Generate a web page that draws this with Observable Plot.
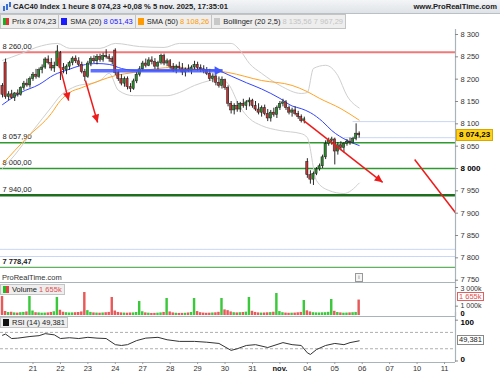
<!DOCTYPE html>
<html><head><meta charset="utf-8">
<script src="https://cdn.jsdelivr.net/npm/d3@7"></script>
<script src="https://cdn.jsdelivr.net/npm/@observablehq/plot@0.6"></script>
<style>
body{margin:0;background:#fff;}
#wrap{position:relative;width:500px;height:375px;overflow:hidden;font-family:"Liberation Sans",Arial,sans-serif;color:#222;}
.abs{position:absolute;}
#titlebar{left:0;top:0;width:500px;height:13px;background:linear-gradient(#f3f5f7,#dfe3e7);border-bottom:1px solid #b9c0c6;}
#titlebar .t{position:absolute;left:13px;top:2px;font-size:7.6px;font-weight:bold;white-space:nowrap;}
#titlebar .r{position:absolute;right:3px;top:2px;font-size:7.6px;font-weight:bold;white-space:nowrap;}
#legend{left:0;top:14px;height:13px;display:flex;border:1px solid #c4c4c4;background:#eeeeee;font-size:7.5px;}
#legend .it{display:flex;align-items:center;padding:0 2px 0 2px;border-right:1px solid #c4c4c4;white-space:nowrap;}
#legend .it:last-child{border-right:none;}
.sq{display:inline-block;width:6px;height:7px;margin-right:3px;}
.box{position:absolute;font-size:7.5px;white-space:nowrap;line-height:8px;}
.plabel{background:#ffd21a;font-weight:bold;font-size:8px;line-height:10px;color:#000;padding:0 2px;border:1px solid #d9a800;}
.vlabel{background:#fff;border:1px solid #e06060;color:#e05050;padding:0 1px;line-height:7px;}
.rlabel{background:#fff;border:1px solid #888;color:#222;padding:0 1px;}
.lgd{background:#eeeeee;border:1px solid #c4c4c4;padding:0 2px;height:9px;line-height:9px;font-size:7.5px;display:flex;align-items:center;}
.sep{position:absolute;left:0;width:455px;height:1px;background:#a9b3ba;}
</style></head>
<body>
<div id="wrap">
  <div id="titlebar" class="abs">
    <svg class="abs" style="left:2px;top:2px" width="10" height="10"><rect x="1" y="4" width="2" height="5" fill="#3a6fd8"/><rect x="4" y="2" width="2" height="6" fill="#3a6fd8"/><rect x="7" y="0" width="2" height="5" fill="#3a6fd8"/></svg>
    <span class="t">CAC40 Index 1 heure 8 074,23 +0,08 % 5 nov. 2025, 17:35:01</span>
    <span class="r">www.ProRealTime.com</span>
  </div>
  <div id="legend" class="abs">
    <div class="it"><span class="sq" style="background:linear-gradient(90deg,#22aa22 50%,#dd3333 50%)"></span>Prix 8 074,23</div>
    <div class="it"><span class="sq" style="background:#1a1aff"></span>SMA (20)&nbsp;<span style="color:#2020ff">8 051,43</span></div>
    <div class="it"><span class="sq" style="background:#ff9a00"></span>SMA (50)&nbsp;<span style="color:#ff9a00">8 108,26</span></div>
    <div class="it"><span class="sq" style="background:#c8c8c8"></span>Bollinger (20 2,5)&nbsp;<span style="color:#c4c4c4">8 135,56 7 967,29</span></div>
  </div>
  <div id="price" class="abs" style="left:0;top:29px"></div>
  <div class="sep" style="top:282px"></div>
  <div id="vol" class="abs" style="left:0;top:282px"></div>
  <div class="sep" style="top:316px"></div>
  <div id="rsi" class="abs" style="left:0;top:316px"></div>
  <div class="abs" style="left:2px;top:273px;font-size:7.5px;color:#333">ProRealTime.com</div>
  <div class="abs" style="left:355px;top:273px;width:6px;height:7px;border:1px solid #999;font-size:6px;line-height:7px;text-align:center;color:#666;background:#f4f4f4">i</div>
  <div class="abs lgd" style="left:0;top:284px"><span class="sq" style="background:linear-gradient(90deg,#22bb22 50%,#dd4444 50%)"></span>Volume&nbsp;<span style="color:#e05050">1 655k</span></div>
  <div class="abs lgd" style="left:0;top:317px"><span class="sq" style="background:#111"></span>RSI (14) 49,381</div>
</div>
<script>
// ---------- DATA ----------
const firstBar = -1; // bar index of first candle (last hour of 17 oct.)
const opens  = [8185,8237,8160,8166,8158,8168,8165,8180,8190,8186,8200,8210,8205,8220,8226,8244,8236,8224,8230,8258,8225,8220,8228,8236,8246,8240,8232,8216,8205,8235,8245,8240,8250,8243,8252,8249,8245,8264,8214,8200,8190,8200,8182,8178,8195,8210,8222,8235,8230,8242,8238,8228,8236,8252,8235,8240,8228,8220,8228,8224,8215,8222,8218,8226,8232,8225,8222,8218,8212,8200,8206,8192,8185,8198,8180,8145,8130,8140,8132,8145,8140,8148,8152,8140,8132,8125,8135,8122,8112,8125,8120,8135,8145,8148,8135,8125,8130,8122,8115,8106,8015,7985,7975,7988,7998,8005,8025,8055,8062,8065,8038,8052,8046,8055,8060,8057,8066,8078];
const highs  = [8190,8245,8172,8175,8170,8176,8183,8195,8200,8205,8215,8222,8225,8232,8248,8252,8246,8238,8275,8262,8235,8232,8240,8250,8252,8248,8238,8222,8240,8250,8252,8255,8256,8258,8266,8255,8250,8268,8218,8210,8205,8205,8190,8200,8215,8228,8240,8245,8248,8250,8246,8240,8256,8256,8245,8244,8235,8232,8238,8235,8225,8232,8230,8240,8238,8232,8230,8226,8222,8212,8210,8205,8205,8200,8185,8150,8145,8150,8148,8155,8152,8158,8155,8150,8145,8140,8142,8132,8130,8135,8140,8150,8155,8152,8140,8135,8138,8128,8120,8115,8022,7995,7992,8002,8010,8030,8062,8068,8070,8068,8058,8060,8058,8065,8068,8070,8100,8082];
const lows   = [8158,8155,8152,8155,8150,8160,8162,8175,8182,8180,8195,8200,8202,8212,8222,8232,8218,8215,8228,8197,8212,8210,8220,8230,8235,8228,8212,8195,8202,8228,8235,8232,8238,8238,8245,8238,8232,8208,8195,8185,8182,8176,8170,8175,8190,8205,8218,8225,8228,8232,8222,8220,8232,8230,8228,8222,8215,8212,8220,8208,8205,8215,8210,8220,8218,8215,8212,8208,8195,8192,8185,8180,8178,8175,8138,8122,8120,8126,8125,8135,8130,8138,8135,8128,8120,8115,8118,8105,8104,8115,8112,8130,8138,8130,8120,8115,8118,8110,8102,8100,7978,7965,7962,7984,7994,8000,8020,8050,8052,8008,8030,8040,8035,8050,8052,8055,8062,8068];
const closes = [8165,8160,8166,8158,8168,8165,8180,8190,8186,8200,8210,8205,8220,8226,8244,8236,8224,8230,8262,8225,8220,8228,8236,8246,8240,8232,8216,8205,8235,8245,8240,8250,8243,8252,8249,8245,8238,8214,8200,8190,8200,8182,8178,8195,8210,8222,8235,8230,8242,8238,8228,8236,8252,8235,8240,8228,8220,8228,8224,8215,8222,8218,8226,8232,8225,8222,8218,8212,8200,8206,8192,8185,8198,8180,8145,8130,8140,8132,8145,8140,8148,8152,8140,8132,8125,8135,8122,8112,8125,8120,8135,8145,8148,8135,8125,8130,8122,8115,8106,8110,7985,7975,7988,7998,8005,8025,8055,8062,8065,8038,8052,8046,8055,8060,8057,8066,8078,8074.23];
const volumes = [2036,430,320,350,280,260,300,330,380,2036,480,300,280,250,260,280,330,400,1930,560,350,300,270,280,300,320,380,2464,520,330,280,260,250,270,300,330,1930,480,330,280,260,250,270,280,320,1500,400,280,250,220,230,250,280,330,1820,380,280,240,220,230,240,270,320,1820,420,300,260,240,250,270,290,340,1820,600,520,380,300,280,300,320,360,1930,450,330,280,260,270,290,310,350,2357,420,300,260,240,250,260,290,330,1607,500,380,300,280,270,290,300,340,1714,450,320,280,250,260,280,300,330,1655];

const sma20Bars = [-1,5,11,16,20,25,30,34,38,44,52,64,70,74,79,84,90,94,97,100,104,107,112,116];
const sma20     = [8143,8170,8188,8210,8220,8231,8235,8233,8224,8219,8219,8222,8218,8207,8192,8178,8157,8140,8134,8125,8105,8085,8063,8051.43];
const sma50Bars = [-1,3,7,15,18,21,25,31,36,42,48,54,64,73,84,94,99,103,110,116];
const sma50     = [8010,8040,8069,8123,8152,8170,8181,8197,8208,8215,8222,8226,8222,8215,8197,8186,8172,8157,8134,8108.26];
const bbUpBars  = [-1,5,10,17,21,31,36,44,52,57,74,77,80,84,90,97,99,101,105,109,112,116];
const bbUp      = [8242,8257,8271,8280,8269,8269,8280,8273,8271,8280,8280,8264,8235,8213,8186,8168,8170,8224,8231,8208,8163,8135.56];
const bbLoBars  = [-1,3,9,15,18,22,31,34,37,42,53,57,62,67,70,73,77,80,84,90,97,99,102,106,111,116];
const bbLo      = [8000,8030,8085,8137,8163,8181,8197,8213,8175,8163,8163,8170,8186,8197,8201,8190,8137,8112,8096,8085,8078,8069,7973,7951,7944,7967.29];
const rsiBars = [-1,0,2,4,8,11,13,16,18,21,24,27,30,33,36,38,40,43,46,50,53,57,62,66,70,74,76,79,82,86,91,94,97,99,100,102,105,108,111,113,116];
const rsi     = [63,66,55,56,60,62,67,64,55,57,55,58,56,55,40,38,40,50,56,58,52,48,48,46,43,26,30,38,40,33,45,40,38,20,16,28,38,43,40,45,49.381];

const levelValues = [8260, 8057.90, 8000, 7940, 7778.47];
const hiLines = [{v:8105, from:114}, {v:8069, from:111}, {v:7819, from:-2}, {v:7803, from:-2}];
const redArrows = [{x1:17.1,y1:8248,x2:20.7,y2:8152},{x1:26.2,y1:8197,x2:30.2,y2:8103},{x1:97.8,y1:8107,x2:123.7,y2:7969}];
const redLine   = [{x1:134.2,y1:8020,x2:147.6,y2:7901}];
const blueArrow = [{x1:27.9,y1:8219,x2:71.2,y2:8219}];
const dayTickBars = [9,18,27,36,45,54,63,72,81,90,99,108,117,126,135,144];
const dayLabels = ["21","22","23","24","27","28","29","30","31","nov.","04","05","06","07","10","11"];
const priceTicks = [7750,7800,7850,7900,7950,8000,8050,8100,8150,8200,8250,8300];
const volTicks = [1000, 3000];
const rsiTicks = [0, 100];
const lastPrice = 8074.23, lastVol = 1655, lastRsi = 49.381;

// ---------- helpers ----------
const loc = d3.formatLocale({decimal:",", thousands:" ", grouping:[3], currency:["",""]});
const f0 = loc.format(",.0f"), f2 = loc.format(",.2f"), f3 = loc.format(",.3f");
const bars = opens.map((o,k)=>({i:firstBar+k,o,h:highs[k],l:lows[k],c:closes[k],v:volumes[k]}));
const series = (idx, vals) => idx.map((i,k)=>({i, v:vals[k]}));
const X_DOMAIN = [-1.66, 147.6];
const XR = X_DOMAIN[1], TICK = 1.0; // tick length in bar units (~3px)
const FONT = "Liberation Sans, Arial, sans-serif";
const W = 500, MR = 45;
const P_H = 253, P_DOM = [7744.8, 8311.2];
const up = "#2b8a2b", dn = "#c23434";

const sx = Plot.scale({x:{domain:X_DOMAIN, range:[0, W-MR]}});
const sy = Plot.scale({y:{domain:P_DOM, range:[P_H, 0]}});
const ang = d => Math.atan2(sx.apply(d.x2)-sx.apply(d.x1), -(sy.apply(d.y2)-sy.apply(d.y1)))*180/Math.PI;
const headShape = (len, half) => ({draw(ctx){ ctx.moveTo(0,0); ctx.lineTo(-half,len); ctx.lineTo(half,len); ctx.closePath(); }});
const baseStyle = {fontFamily: FONT, fontSize: "7.5px", color: "#222", overflow: "visible", background: "transparent"};

// ---------- PRICE PANEL ----------
const price = Plot.plot({
  width: W, height: P_H, marginLeft: 0, marginRight: MR, marginTop: 0, marginBottom: 0,
  x: {type:"linear", domain: X_DOMAIN, axis: null, label: null},
  y: {type:"linear", domain: P_DOM, axis: null, label: null},
  style: baseStyle,
  marks: [
    Plot.ruleY(hiLines, {y:"v", x1:"from", x2: XR, stroke:"#c9d6f5", strokeWidth:1}),
    Plot.ruleY(levelValues, {y: d=>d, stroke: (d,k)=>["#f07878","#2e9a2e","#2e9a2e","#1e6e1e","#62b062"][k], strokeWidth: (d,k)=>[2,1.5,1.5,2.5,1.2][k]}),
    Plot.text(levelValues.slice(0,4), {x: X_DOMAIN[0], y: d=>d, text: d=>f2(d), textAnchor:"start", dx: 2, dy: -6, fill:"#222"}),
    Plot.text([levelValues[4]], {x: X_DOMAIN[0], y: d=>d, text: d=>f2(d), textAnchor:"start", dx: 2, dy: -6, fill:"#222", fontWeight:"bold"}),
    Plot.line(series(bbUpBars,bbUp), {x:"i", y:"v", stroke:"#cfcfcf", strokeWidth:1, curve:"monotone-x"}),
    Plot.line(series(bbLoBars,bbLo), {x:"i", y:"v", stroke:"#cfcfcf", strokeWidth:1, curve:"monotone-x"}),
    Plot.line(series(sma50Bars,sma50), {x:"i", y:"v", stroke:"#ffa326", strokeWidth:1, curve:"monotone-x"}),
    Plot.line(series(sma20Bars,sma20), {x:"i", y:"v", stroke:"#3345ff", strokeWidth:1, curve:"monotone-x"}),
    Plot.ruleX(bars, {x:"i", y1:"l", y2:"h", stroke:"#111", strokeWidth:0.9}),
    Plot.rect(bars, {x1: d=>d.i-0.36, x2: d=>d.i+0.36, y1:"o", y2:"c", fill: d=>d.c>=d.o?up:dn, stroke:"#1a1a1a", strokeWidth:0.5}),
    Plot.link(blueArrow, {x1:"x1", y1:"y1", x2:"x2", y2:"y2", stroke:"#4257ff", strokeWidth:3.5, strokeOpacity:0.85}),
    Plot.vector(blueArrow, {x:"x2", y:"y2", rotate: ang, length: 8, anchor:"start", shape: headShape(8,4.5), fill:"#4257ff", stroke:"none"}),
    Plot.link(redArrows, {x1:"x1", y1:"y1", x2:"x2", y2:"y2", stroke:"#ee1b1b", strokeWidth:1.5}),
    Plot.link(redLine, {x1:"x1", y1:"y1", x2:"x2", y2:"y2", stroke:"#ee1b1b", strokeWidth:1.5}),
    Plot.vector(redArrows, {x:"x2", y:"y2", rotate: ang, length: 8, anchor:"start", shape: headShape(8,3.8), fill:"#ee1b1b", stroke:"none"}),
    Plot.ruleX([XR], {stroke:"#a9b3ba", strokeWidth:1.2, y1: P_DOM[0], y2: P_DOM[1]}),
    Plot.ruleY(priceTicks, {y: d=>d, x1: XR, x2: XR+TICK, stroke:"#888"}),
    Plot.text(priceTicks.filter(t=>t!==8000 && t!==7750), {x: XR, y: d=>d, text: d=>f0(d), dx: 5, textAnchor:"start", fill:"#333", fontSize: 7.5}),
    Plot.text([7750], {x: XR, y: d=>d, text: d=>f0(d), dx: 5, dy: -1, textAnchor:"start", fill:"#333", fontSize: 7.5}),
    Plot.text([8000], {x: XR, y: d=>d, text: d=>f0(d), dx: 5, textAnchor:"start", fill:"#000", fontSize: 8, fontWeight:"bold"})
  ]
});
document.getElementById("price").appendChild(price);
{
  const y = 29 + price.scale("y").apply(lastPrice);
  const d = document.createElement("div");
  d.className = "box plabel"; d.textContent = f2(lastPrice);
  d.style.left = "456px"; d.style.top = (y-6)+"px";
  document.getElementById("wrap").appendChild(d);
}

// ---------- VOLUME PANEL ----------
const vol = Plot.plot({
  width: W, height: 34, marginLeft: 0, marginRight: MR, marginTop: 5, marginBottom: 1,
  x: {type:"linear", domain: X_DOMAIN, axis: null, label: null},
  y: {type:"linear", domain: [0, 3000], axis: null, label: null},
  style: baseStyle,
  marks: [
    Plot.rectY(bars, {x1: d=>d.i-0.4, x2: d=>d.i+0.4, y: "v", fill: d=>d.c>=d.o?"#3cc83c":"#e85a5a"}),
    Plot.ruleX([XR], {stroke:"#a9b3ba", strokeWidth:1.2, y1:-120, y2:3540}),
    Plot.ruleY(volTicks, {y: d=>d, x1: XR, x2: XR+TICK, stroke:"#888"}),
    Plot.text([3000], {x: XR, y: d=>d, text: d=>f0(d)+"k", dx: 5, dy: 1, textAnchor:"start", fill:"#333", fontSize: 7}),
    Plot.text([1000], {x: XR, y: d=>d, text: d=>f0(d)+"k", dx: 5, dy: -0.7, textAnchor:"start", fill:"#333", fontSize: 7}),
    Plot.text([0], {x: XR, y: d=>d, text: d=>"0", dx: 5, dy: -1.5, textAnchor:"start", fontWeight:"bold", fontSize: 7.5, fill:"#000"})
  ]
});
document.getElementById("vol").appendChild(vol);
{
  const y = 282 + vol.scale("y").apply(lastVol);
  const d = document.createElement("div");
  d.className = "box vlabel"; d.textContent = f0(lastVol)+"k";
  d.style.left = "457px"; d.style.top = (y-7.5)+"px";
  document.getElementById("wrap").appendChild(d);
}

// ---------- RSI PANEL ----------
const R_DOM = [-3.7, 109];
const dayData = dayTickBars.map((b,k)=>({b, t:dayLabels[k]}));
const rsiPlot = Plot.plot({
  width: W, height: 59, marginLeft: 0, marginRight: MR, marginTop: 0, marginBottom: 13,
  x: {type:"linear", domain: X_DOMAIN, axis: null, label: null},
  y: {type:"linear", domain: R_DOM, axis: null, label: null},
  style: baseStyle,
  marks: [
    Plot.ruleY([70, 30], {stroke:"#9a9a9a", strokeDasharray:"3,2", strokeWidth:0.8}),
    Plot.line(series(rsiBars, rsi), {x:"i", y:"v", stroke:"#333", strokeWidth:1}),
    Plot.ruleY([R_DOM[0]], {stroke:"#a9b3ba", strokeWidth:1.2}),
    Plot.ruleX([XR], {stroke:"#a9b3ba", strokeWidth:1.2, y1:R_DOM[0], y2:R_DOM[1]+10}),
    Plot.ruleY(rsiTicks, {y: d=>d, x1: XR, x2: XR+TICK, stroke:"#888"}),
    Plot.text([100], {x: XR, y: d=>d, text: d=>String(d), dx: 5, dy: 1.8, textAnchor:"start", fontWeight:"bold", fontSize: 8, fill:"#000"}),
    Plot.text([0], {x: XR, y: d=>d, text: d=>String(d), dx: 5, dy: -2, textAnchor:"start", fontWeight:"bold", fontSize: 8, fill:"#000"}),
    Plot.ruleX(dayTickBars, {x: d=>d, y1: R_DOM[0], y2: R_DOM[0]-5, stroke:"#999"}),
    Plot.text(dayData.filter(d=>d.t!=="nov."), {x:"b", text:"t", frameAnchor:"bottom", dy: 8, fill:"#333", fontSize: 7.5}),
    Plot.text(dayData.filter(d=>d.t==="nov."), {x:"b", text:"t", frameAnchor:"bottom", dy: 8, fill:"#111", fontSize: 7.5, fontWeight:"bold"})
  ]
});
document.getElementById("rsi").appendChild(rsiPlot);
{
  const y = 316 + rsiPlot.scale("y").apply(lastRsi);
  const d = document.createElement("div");
  d.className = "box rlabel"; d.textContent = f3(lastRsi);
  d.style.left = "457px"; d.style.top = (y-5)+"px";
  document.getElementById("wrap").appendChild(d);
}
</script>
</body></html>
